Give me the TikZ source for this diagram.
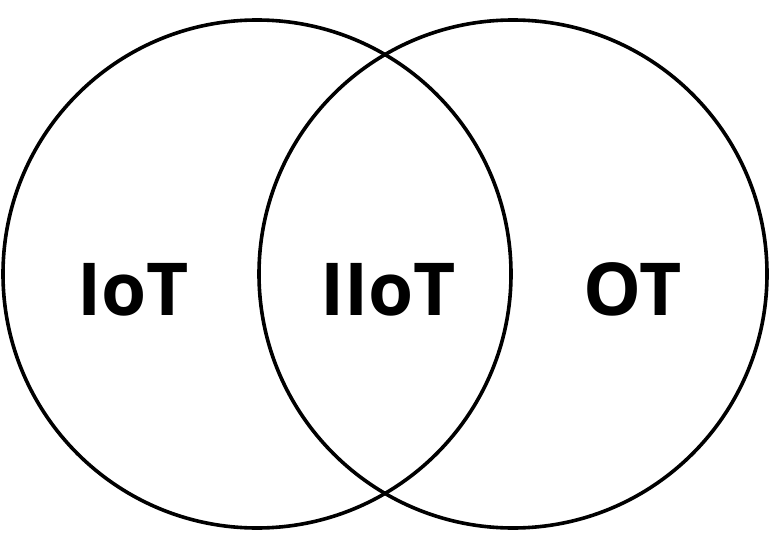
\documentclass[tikz,border=0pt]{standalone}
\usepackage{fontspec}
\setmainfont{Open Sans}[BoldFont={Open Sans Bold}]
\usepackage{tikz}
\usetikzlibrary{positioning}

\begin{document}
\begin{tikzpicture}[x=1pt,y=1pt,
  set/.style={circle,draw=black,line width=3.6pt,minimum size=508pt,inner sep=0pt},
  lbl/.style={font=\fontsize{73}{80}\selectfont\bfseries,anchor=base,inner sep=0pt}
]
\useasboundingbox (0,0) rectangle (770,550);
% Sets
\node[set] (iot) at (257,276) {};
\node[set] (ot)  at (513,276) {};

% Labels
\node[lbl] (iotlbl)  at (133,235) {IoT};
\node[lbl] (iiotlbl) at (388,235) {IIoT};
\node[lbl] (otlbl)   at (633,235) {OT};

\end{tikzpicture}
\end{document}
